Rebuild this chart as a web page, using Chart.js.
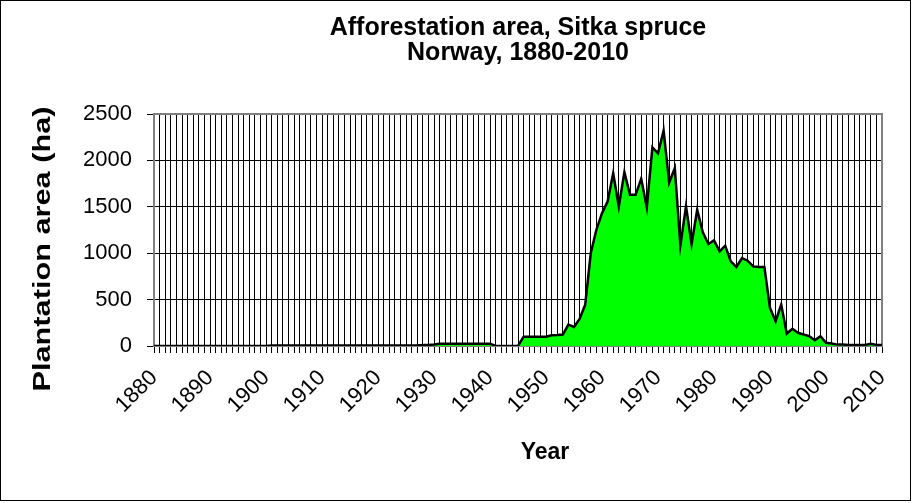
<!DOCTYPE html>
<html>
<head>
<meta charset="utf-8">
<script src="https://cdn.jsdelivr.net/npm/chart.js@4.4.1/dist/chart.umd.min.js"></script>
<style>
  html, body { margin: 0; padding: 0; background: #fff; }
  #chart { display: block; }
</style>
</head>
<body>
<canvas id="chart" width="915" height="503"></canvas>
<script>
// Years on the category axis (one gridline per year)
const years = [];
for (let y = 1880; y <= 2010; y++) years.push(String(y));

// Afforestation area (ha), one value per year 1880-2010
const area = [
  0, 0, 0, 0, 0, 0, 0, 0, 0, 0,                       // 1880-1889
  0, 0, 0, 0, 0, 0, 0, 0, 0, 0,                       // 1890-1899
  0, 5, 5, 5, 5, 5, 5, 5, 5, 5,                       // 1900-1909
  5, 5, 5, 5, 5, 5, 5, 5, 5, 5,                       // 1910-1919
  5, 5, 5, 5, 5, 5, 5, 5, 10, 12,                     // 1920-1929
  15, 25, 25, 25, 25, 25, 25, 25, 25, 25,             // 1930-1939
  25, 0, 0, 0, 0, 0, 100, 100, 100, 100,              // 1940-1949
  100, 116, 118, 124, 231, 206, 292, 446, 1002, 1253, // 1950-1959
  1432, 1557, 1862, 1503, 1873, 1629, 1629, 1801, 1493, 2141, // 1960-1969
  2077, 2321, 1762, 1916, 1084, 1504, 1099, 1468, 1224, 1099, // 1970-1979
  1138, 1020, 1081, 912, 851, 948, 919, 858, 851, 851, // 1980-1989
  410, 267, 446, 134, 185, 142, 124, 106, 62, 106,    // 1990-1999
  34, 27, 15, 15, 12, 12, 12, 12, 25, 12,             // 2000-2009
  10                                                  // 2010
];

const yMin = 0, yMax = 2500, yStep = 500;
const titleLines = ['Afforestation area, Sitka spruce', 'Norway, 1880-2010'];
const xTitle = 'Year';
const yTitle = 'Plantation area (ha)';
const FONT = 'Liberation Sans, Arial, sans-serif';

const frame = {
  id: 'frame',
  beforeDraw(chart) {
    const ctx = chart.ctx;
    ctx.save();
    ctx.fillStyle = '#fff';
    ctx.fillRect(0, 0, chart.width, chart.height);
    ctx.restore();
  },
  beforeDatasetsDraw(chart) {
    const {ctx, chartArea: a} = chart;
    ctx.save();
    ctx.strokeStyle = '#808080';
    ctx.lineWidth = 2;
    ctx.strokeRect(a.left, a.top, a.right - a.left, a.bottom - a.top);
    ctx.restore();
  },
  afterDraw(chart) {
    const {ctx, chartArea: a} = chart;
    ctx.save();
    // axis titles, placed where the original puts them
    ctx.fillStyle = '#000';
    ctx.textAlign = 'center';
    ctx.textBaseline = 'middle';
    ctx.font = 'bold 23px ' + FONT;
    ctx.fillText(xTitle, a.left + 391, 453);
    // the original's vertical title is drawn long and narrow
    ctx.translate(43, a.top + 135);
    ctx.rotate(-Math.PI / 2);
    ctx.scale(1.28, 1);
    ctx.font = 'bold 24px ' + FONT;
    ctx.fillText(yTitle, 0, 0);
    ctx.restore();

    ctx.save();
    ctx.strokeStyle = '#000';
    ctx.lineWidth = 1;
    ctx.strokeRect(0.5, 0.5, 910, 500);
    ctx.restore();
  }
};

new Chart(document.getElementById('chart').getContext('2d'), {
  type: 'line',
  data: {
    labels: years,
    datasets: [{
      label: 'Plantation area',
      data: area,
      borderColor: '#000',
      borderWidth: 2.5,
      backgroundColor: '#00ff00',
      fill: 'origin',
      pointRadius: 0,
      tension: 0
    }]
  },
  options: {
    responsive: false,
    animation: false,
    devicePixelRatio: 1,
    layout: { padding: { left: 0, right: 33, top: 0, bottom: 0 } },
    plugins: {
      legend: { display: false },
      tooltip: { enabled: false },
      title: {
        display: true,
        fullSize: false,
        text: titleLines,
        color: '#000',
        font: { family: FONT, size: 25, weight: 'bold', lineHeight: 1.0 },
        padding: { top: 16, bottom: 48 }
      }
    },
    scales: {
      x: {
        type: 'category',
        offset: false,
        grid: { color: '#000', lineWidth: 1, tickLength: 7, offset: false },
        border: { color: '#000', width: 1 },
        ticks: {
          autoSkip: false,
          minRotation: 45,
          maxRotation: 45,
          padding: 12,
          color: '#000',
          font: { family: FONT, size: 22 },
          callback(value) {
            const lbl = this.getLabelForValue(value);
            return Number(lbl) % 10 === 0 ? lbl : '';
          }
        },
        afterFit(s) { s.height = 157; }
      },
      y: {
        min: yMin,
        max: yMax,
        grid: { color: '#000', lineWidth: 1, tickLength: 7 },
        border: { color: '#808080', width: 2 },
        ticks: {
          stepSize: yStep,
          padding: 15,
          color: '#000',
          font: { family: FONT, size: 22 },
          callback: v => String(v)
        },
        afterFit(s) { s.width = 154; }
      }
    }
  },
  plugins: [frame]
});
</script>
</body>
</html>
